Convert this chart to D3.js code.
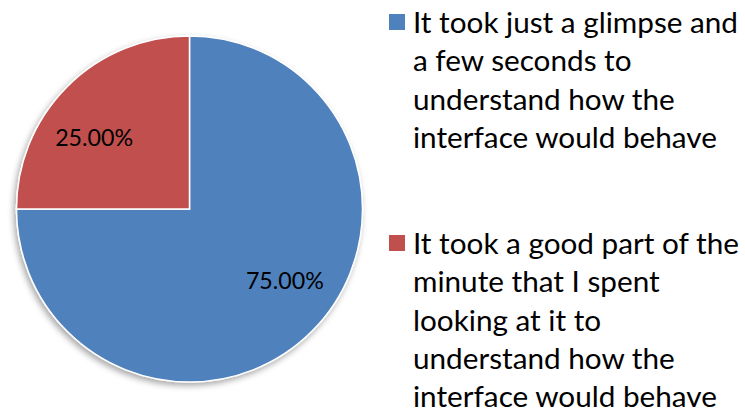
<!DOCTYPE html>
<html>
<head>
<meta charset="utf-8">
<script src="https://cdn.jsdelivr.net/npm/d3@7"></script>
<style>
  body { margin: 0; background: #fff; }
  text { font-family: Lato, "Open Sans", sans-serif; fill: #000; }
</style>
</head>
<body>
<div id="chart"></div>
<script>
var categories = [
  "It took just a glimpse and a few seconds to understand how the interface would behave",
  "It took a good part of the minute that I spent looking at it to understand how the interface would behave"
];
var values = [75, 25];
var labels = ["75.00%", "25.00%"];
var legendLines = [
  ["It took just a glimpse and", "a few seconds to", "understand how the", "interface would behave"],
  ["It took a good part of the", "minute that I spent", "looking at it to", "understand how the", "interface would behave"]
];
var colors = ["#4F81BD", "#C0504D"];

var svgWidth = 745;
var svgHeight = 419;

var svg = d3.select("#chart")
  .append("svg")
  .attr("width", svgWidth)
  .attr("height", svgHeight);

// soft shadow under the pie
var defs = svg.append("defs");
var filter = defs.append("filter")
  .attr("id", "shadow")
  .attr("x", "-10%").attr("y", "-10%")
  .attr("width", "120%").attr("height", "120%");
filter.append("feDropShadow")
  .attr("dx", -2)
  .attr("dy", 3)
  .attr("stdDeviation", 3)
  .attr("flood-color", "#000")
  .attr("flood-opacity", 0.35);

var cx = 189.5, cy = 209, radius = 173;

var pie = d3.pie().sort(null).value(d => d);
var arc = d3.arc().innerRadius(0).outerRadius(radius);
var labelArc = d3.arc().innerRadius(radius * 0.69).outerRadius(radius * 0.69);

// Excel-ish label spot: a bit wider than tall
function labelPos(d) {
  var c = labelArc.centroid(d);
  return [c[0] * 1.13, c[1] * 0.845];
}

var chart = svg.append("g")
  .attr("transform", `translate(${cx}, ${cy})`);

chart.append("g")
  .attr("filter", "url(#shadow)")
  .selectAll("path")
  .data(pie(values))
  .enter()
  .append("path")
  .attr("d", arc)
  .attr("fill", (d, i) => colors[i])
  .attr("stroke", "#fff")
  .attr("stroke-width", 1.5);

var valueLabels = chart.selectAll(".vlabel")
  .data(pie(values))
  .enter()
  .append("text")
  .attr("class", "vlabel")
  .attr("text-anchor", "middle")
  .attr("dy", "0.35em")
  .attr("font-size", 24)
  .text((d, i) => labels[i]);

// legend
var legendTop = [14, 235];
var legend = svg.append("g");

legendLines.forEach(function(lines, i) {
  legend.append("rect")
    .attr("x", 389)
    .attr("y", legendTop[i])
    .attr("width", 16)
    .attr("height", 16)
    .attr("fill", colors[i]);

  var t = legend.append("text")
    .attr("class", "ltext")
    .attr("font-size", 28)
    .attr("x", 413)
    .attr("y", legendTop[i] + 19);
  t.append("title").text(categories[i]);
  lines.forEach(function(line, j) {
    t.append("tspan")
      .attr("x", 413)
      .attr("dy", j === 0 ? 0 : 38.3)
      .text(line);
  });
});

// squeeze the legend text to a Calibri-like width
var widest = 0;
legend.selectAll("tspan").each(function() {
  widest = Math.max(widest, this.getComputedTextLength());
});
var sx = 326 / widest;
legend.selectAll(".ltext")
  .attr("transform", `translate(${413 * (1 - sx)}, 0) scale(${sx}, 1)`);

var vw = 0;
valueLabels.each(function() { vw = Math.max(vw, this.getComputedTextLength()); });
var vs = 78 / vw;
valueLabels.attr("transform", function(d) {
  var p = labelPos(d);
  return `translate(${p[0]}, ${p[1]}) scale(${vs}, 1)`;
});
</script>
</body>
</html>
